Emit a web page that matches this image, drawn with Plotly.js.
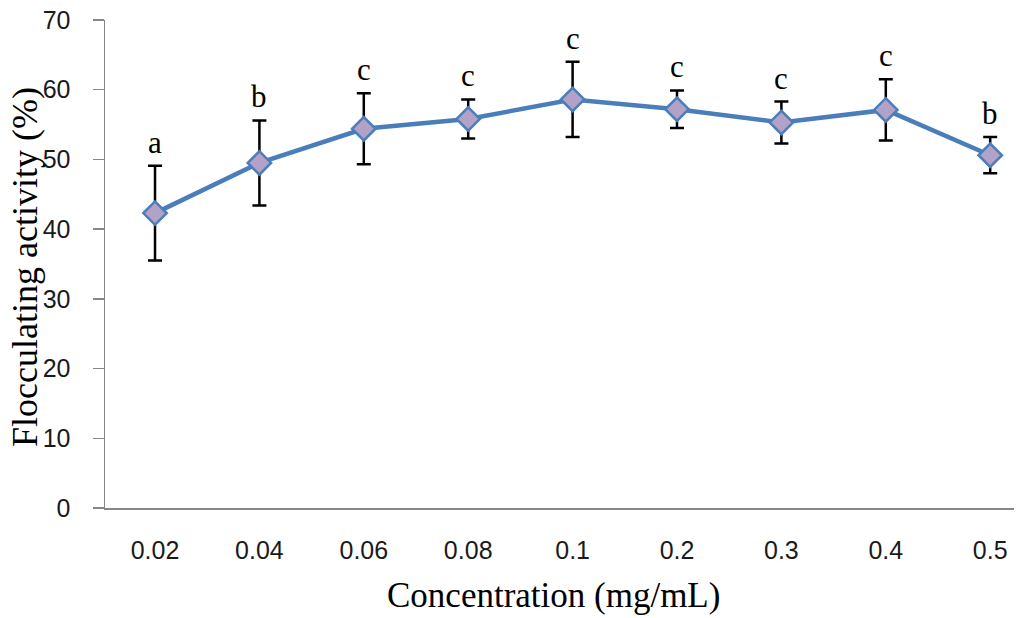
<!DOCTYPE html>
<html>
<head>
<meta charset="utf-8">
<script src="https://cdn.plot.ly/plotly-3.0.1.min.js"></script>
<style>html,body{margin:0;padding:0;background:#fff;}#chart{width:1024px;height:618px;}</style>
</head>
<body>
<div id="chart"></div>
<script>
const categories = ["0.02", "0.04", "0.06", "0.08", "0.1", "0.2", "0.3", "0.4", "0.5"];
const activity = [42.3, 49.5, 54.4, 55.8, 58.6, 57.2, 55.3, 57.1, 50.6];
const errors = [6.8, 6.1, 5.1, 2.8, 5.4, 2.7, 3.0, 4.4, 2.6];
const letters = ["a", "b", "c", "c", "c", "c", "c", "c", "b"];

const idx = categories.map((c, i) => i);

const trace = {
  x: idx,
  y: activity,
  type: "scatter",
  mode: "lines+markers",
  line: {color: "#4A7EBB", width: 4.5},
  marker: {symbol: "diamond", size: 18, color: "#B3A2C7", line: {color: "#4A7EBB", width: 2.5}},
  error_y: {type: "data", array: errors, visible: true, color: "#000000", thickness: 2.5, width: 7},
  hoverinfo: "skip"
};

const annotations = letters.map((t, i) => ({
  x: i, y: activity[i] + errors[i], xref: "x", yref: "y",
  text: t, showarrow: false, yanchor: "bottom", yshift: 4,
  font: {family: "Liberation Serif, Times New Roman, serif", size: 31, color: "#000"}
}));

annotations.push({
  xref: "paper", yref: "paper", x: 0.4934, y: -0.18, xanchor: "center", yanchor: "middle",
  text: "Concentration (mg/mL)", showarrow: false,
  font: {family: "Liberation Serif, Times New Roman, serif", size: 35, color: "#000"}
});
annotations.push({
  xref: "paper", yref: "paper", x: -0.088, y: 0.494, xanchor: "center", yanchor: "middle",
  text: "Flocculating activity (%)", showarrow: false, textangle: -90,
  font: {family: "Liberation Serif, Times New Roman, serif", size: 36, color: "#000"}
});

const layout = {
  width: 1024, height: 618,
  margin: {l: 105, r: 10, t: 20, b: 110},
  paper_bgcolor: "#fff", plot_bgcolor: "#fff",
  showlegend: false,
  xaxis: {
    range: [-0.479, 8.228],
    tickvals: idx, ticktext: categories,
    showgrid: false, zeroline: false,
    showline: true, linecolor: "#868686", linewidth: 1.5,
    ticks: "", ticklabelstandoff: 19,
    tickfont: {family: "Liberation Sans, Arial, sans-serif", size: 25, color: "#1a1a1a"}
  },
  yaxis: {
    range: [0, 70],
    tickvals: [0, 10, 20, 30, 40, 50, 60, 70],
    showgrid: false, zeroline: false,
    showline: true, linecolor: "#868686", linewidth: 1.5,
    ticks: "outside", ticklen: 11, tickcolor: "#868686", tickwidth: 1.5,
    ticklabelstandoff: 17,
    tickfont: {family: "Liberation Sans, Arial, sans-serif", size: 25, color: "#1a1a1a"}
  },
  annotations: annotations
};

Plotly.newPlot("chart", [trace], layout, {staticPlot: true, displayModeBar: false});
</script>
</body>
</html>
